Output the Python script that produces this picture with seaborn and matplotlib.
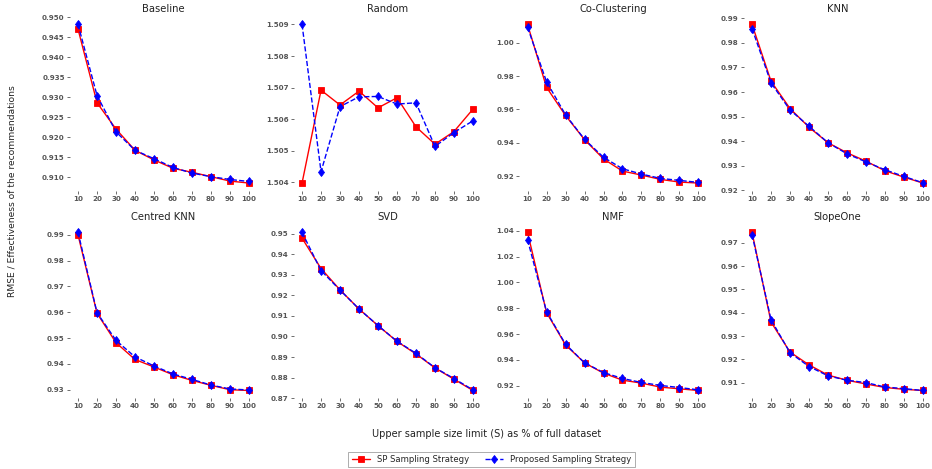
import matplotlib
matplotlib.use("Agg")
import matplotlib.pyplot as plt
import seaborn as sns
import pandas as pd

sizes = [10, 20, 30, 40, 50, 60, 70, 80, 90, 100]
titles = ["Baseline", "Random", "Co-Clustering", "KNN",
          "Centred KNN", "SVD", "NMF", "SlopeOne"]

sp_baseline = [0.9470, 0.9286, 0.9220, 0.9167, 0.9143, 0.9122, 0.9112, 0.9101, 0.9090, 0.9085]
pr_baseline = [0.9482, 0.9304, 0.9213, 0.9167, 0.9146, 0.9124, 0.9110, 0.9101, 0.9094, 0.9089]
sp_random = [1.50398, 1.50692, 1.50645, 1.50689, 1.50636, 1.50668, 1.50576, 1.50521, 1.50561, 1.50632]
pr_random = [1.50900, 1.50434, 1.50640, 1.50671, 1.50672, 1.50648, 1.50652, 1.50514, 1.50558, 1.50595]
sp_cocl = [1.0111, 0.9733, 0.9564, 0.9419, 0.9303, 0.9230, 0.9206, 0.9180, 0.9164, 0.9158]
pr_cocl = [1.0094, 0.9767, 0.9568, 0.9421, 0.9313, 0.9244, 0.9212, 0.9186, 0.9174, 0.9162]
sp_knn = [0.9875, 0.9644, 0.9533, 0.9457, 0.9394, 0.9353, 0.9319, 0.9280, 0.9254, 0.9230]
pr_knn = [0.9858, 0.9637, 0.9527, 0.9461, 0.9394, 0.9349, 0.9316, 0.9284, 0.9257, 0.9231]
sp_cknn = [0.9899, 0.9596, 0.9482, 0.9417, 0.9388, 0.9358, 0.9336, 0.9317, 0.9300, 0.9297]
pr_cknn = [0.9909, 0.9598, 0.9491, 0.9427, 0.9392, 0.9361, 0.9340, 0.9318, 0.9303, 0.9299]
sp_svd = [0.9479, 0.9331, 0.9227, 0.9134, 0.9053, 0.8976, 0.8915, 0.8847, 0.8792, 0.8737]
pr_svd = [0.9507, 0.9321, 0.9226, 0.9134, 0.9053, 0.8977, 0.8918, 0.8848, 0.8795, 0.8740]
sp_nmf = [1.0387, 0.9767, 0.9517, 0.9378, 0.9298, 0.9244, 0.9221, 0.9190, 0.9177, 0.9164]
pr_nmf = [1.0331, 0.9774, 0.9522, 0.9378, 0.9303, 0.9257, 0.9226, 0.9203, 0.9187, 0.9169]
sp_slope = [0.9745, 0.9360, 0.9231, 0.9176, 0.9132, 0.9110, 0.9094, 0.9079, 0.9071, 0.9066]
pr_slope = [0.9736, 0.9370, 0.9228, 0.9169, 0.9129, 0.9110, 0.9100, 0.9081, 0.9074, 0.9066]

sp_series = [sp_baseline, sp_random, sp_cocl, sp_knn, sp_cknn, sp_svd, sp_nmf, sp_slope]
pr_series = [pr_baseline, pr_random, pr_cocl, pr_knn, pr_cknn, pr_svd, pr_nmf, pr_slope]
label_sp = "SP Sampling Strategy"
label_pr = "Proposed Sampling Strategy"

sns.set_style("white")
plt.rcParams['font.family'] = ['DejaVu Sans']

W, H = 932, 469
fig = plt.figure(figsize=(W / 100, H / 100), dpi=100)

lefts = [69.5, 293.5, 519.0, 743.5]
aw = 188.0
rows = [(16.5, 191.0), (224.5, 398.4)]

axes = []
for i in range(8):
    r, c = divmod(i, 4)
    top, bot = rows[r]
    ax = fig.add_axes([lefts[c] / W, 1 - bot / H, aw / W, (bot - top) / H])
    axes.append(ax)
    df = pd.DataFrame({"S": sizes, "sp": sp_series[i], "pr": pr_series[i]})
    sns.lineplot(data=df, x="S", y="sp", ax=ax, color="#ff0000", marker="s",
                 markersize=4.0, markeredgewidth=0.6, markeredgecolor="#ff0000",
                 linewidth=1.0, label=label_sp, legend=False)
    sns.lineplot(data=df, x="S", y="pr", ax=ax, color="#0000ff", marker="d",
                 markersize=4.5, markeredgewidth=0.6, markeredgecolor="#0000ff",
                 linewidth=1.0, linestyle="--", label=label_pr, legend=False)
    ax.set_title(titles[i], fontsize=7.2, pad=3, color="#222222")
    ax.set_xlabel("")
    ax.set_ylabel("")
    ax.set_xticks(sizes)
    for s in ax.spines.values():
        s.set_visible(False)
    ax.tick_params(axis="y", length=2, width=0.6, pad=1.5, colors="#555555",
                   labelsize=5.1, left=True)
    ax.tick_params(axis="x", length=2, width=0.6, pad=1.5, colors="#555555",
                   labelsize=5.1, bottom=True)
    for lab in ax.get_xticklabels() + ax.get_yticklabels():
        lab.set_fontweight("bold")
    if i in (0, 1):
        ax.yaxis.set_major_formatter(matplotlib.ticker.FormatStrFormatter("%.3f"))
    else:
        ax.yaxis.set_major_formatter(matplotlib.ticker.FormatStrFormatter("%.2f"))

fig.text(12 / W, 1 - 191 / H, "RMSE / Effectiveness of the recommendations",
         rotation=90, ha="center", va="center", fontsize=6.6, color="#222222")
fig.text(486.5 / W, 1 - 434 / H,
         "Upper sample size limit (S) as % of full dataset",
         ha="center", va="center", fontsize=7.0, color="#222222")

h, l = axes[0].get_legend_handles_labels()
leg = fig.legend(h, l, loc="center", bbox_to_anchor=(491.5 / W, 1 - 459.5 / H), ncol=2,
                 fontsize=6.1, frameon=True, fancybox=False, edgecolor="#888888",
                 handlelength=2.2, columnspacing=1.8, borderpad=0.4)
leg.get_frame().set_linewidth(0.6)

fig.savefig("out.png", dpi=100)
